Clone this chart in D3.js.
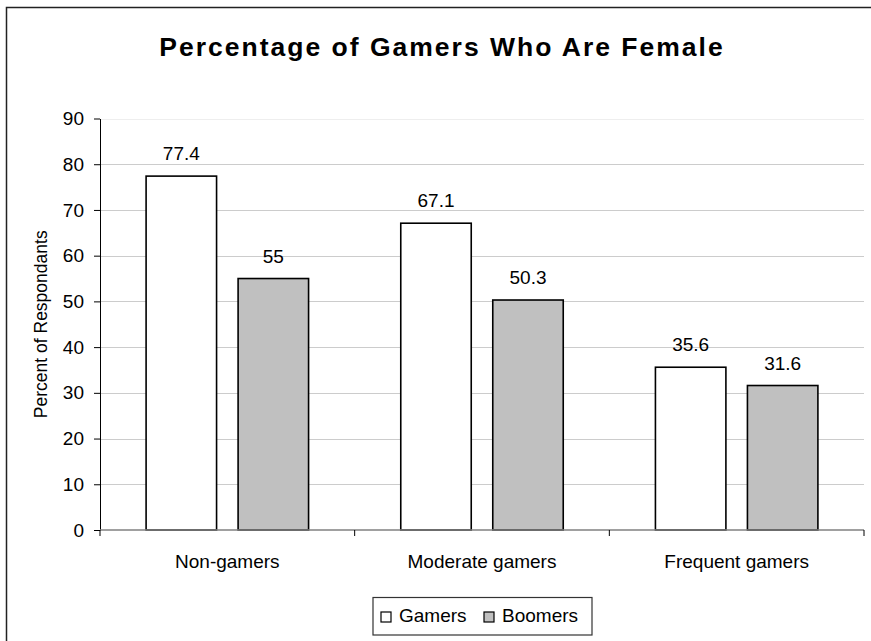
<!DOCTYPE html>
<html>
<head>
<meta charset="utf-8">
<script src="https://cdn.jsdelivr.net/npm/d3@7"></script>
<style>
  html, body { margin: 0; padding: 0; background: #fff; }
  svg { display: block; font-family: "Liberation Sans", Arial, sans-serif; }
</style>
</head>
<body>
<svg id="chart" width="871" height="641"></svg>
<script>
// Share of each group who are female
const categories = ["Non-gamers", "Moderate gamers", "Frequent gamers"];
const seriesNames = ["Gamers", "Boomers"];
const gamers = [77.4, 67.1, 35.6];
const boomers = [55, 50.3, 31.6];
const yTicks = [0, 10, 20, 30, 40, 50, 60, 70, 80, 90];
const seriesFill = { Gamers: "#ffffff", Boomers: "#c0c0c0" };

const svg = d3.select("#chart");
const plotLeft = 100, plotRight = 864, plotTop = 118.5, plotBottom = 530;

// outer frame
svg.append("rect")
  .attr("x", 6.5).attr("y", 7.5)
  .attr("width", 900).attr("height", 700)
  .attr("fill", "none").attr("stroke", "#222").attr("stroke-width", 1.5);

// title
svg.append("text")
  .attr("x", 442).attr("y", 56)
  .attr("text-anchor", "middle")
  .attr("font-size", 26.5).attr("font-weight", "bold")
  .attr("letter-spacing", 2)
  .text("Percentage of Gamers Who Are Female");

const y = d3.scaleLinear().domain([0, 90]).range([plotBottom, plotTop]);
const x0 = d3.scaleBand().domain(categories).range([plotLeft, plotRight])
  .paddingInner(0.362).paddingOuter(0.181);
const x1 = d3.scaleBand().domain(seriesNames).range([0, x0.bandwidth()])
  .paddingInner(0.234);

// gridlines
svg.append("g").selectAll("line")
  .data(yTicks.filter(d => d > 0))
  .join("line")
  .attr("x1", plotLeft).attr("x2", plotRight)
  .attr("y1", d => Math.round(y(d)) + 0.5).attr("y2", d => Math.round(y(d)) + 0.5)
  .attr("stroke", d => d === 90 ? "#eeeeee" : "#cccccc").attr("stroke-width", 1);

// y axis
const yAxis = svg.append("g")
  .attr("transform", `translate(${plotLeft},0)`)
  .call(d3.axisLeft(y).tickValues(yTicks).tickSize(6).tickPadding(10).tickSizeOuter(0));
yAxis.select(".domain").attr("stroke", "#000");
yAxis.selectAll(".tick line").attr("stroke", "#000");
yAxis.selectAll("text").attr("font-size", 19).attr("fill", "#000")
  .attr("font-family", "Liberation Sans, Arial, sans-serif");

svg.append("text")
  .attr("transform", `translate(47,${(plotTop + plotBottom) / 2}) rotate(-90)`)
  .attr("text-anchor", "middle")
  .attr("font-size", 17.5)
  .text("Percent of Respondants");

// bars
const rows = categories.map((c, i) => ({ cat: c, values: [
  { key: "Gamers", value: gamers[i] },
  { key: "Boomers", value: boomers[i] }
]}));

const groups = svg.append("g").selectAll("g")
  .data(rows).join("g")
  .attr("transform", d => `translate(${x0(d.cat)},0)`);

groups.selectAll("rect")
  .data(d => d.values).join("rect")
  .attr("x", d => x1(d.key))
  .attr("y", d => y(d.value))
  .attr("width", x1.bandwidth())
  .attr("height", d => plotBottom - y(d.value))
  .attr("fill", d => seriesFill[d.key])
  .attr("stroke", "#000").attr("stroke-width", 1.6);

groups.selectAll("text")
  .data(d => d.values).join("text")
  .attr("x", d => x1(d.key) + x1.bandwidth() / 2)
  .attr("y", d => y(d.value) - 16)
  .attr("text-anchor", "middle")
  .attr("font-size", 19)
  .text(d => d.value);

// x axis
const step = x0.step();
svg.append("line")
  .attr("x1", plotLeft).attr("x2", plotRight)
  .attr("y1", plotBottom).attr("y2", plotBottom)
  .attr("stroke", "#808080").attr("stroke-width", 1.5);
svg.append("g").selectAll("line")
  .data(d3.range(categories.length + 1))
  .join("line")
  .attr("x1", i => plotLeft + i * step).attr("x2", i => plotLeft + i * step)
  .attr("y1", plotBottom).attr("y2", plotBottom + 6)
  .attr("stroke", "#000");

svg.append("g").selectAll("text")
  .data(categories).join("text")
  .attr("x", d => x0(d) + x0.bandwidth() / 2)
  .attr("y", 567.5)
  .attr("text-anchor", "middle")
  .attr("font-size", 19)
  .text(d => d);

// legend
const legend = svg.append("g");
legend.append("rect")
  .attr("x", 373).attr("y", 597.5).attr("width", 219).attr("height", 37.5)
  .attr("fill", "#fff").attr("stroke", "#333").attr("stroke-width", 1.2);
const legendX = [381, 484];
seriesNames.forEach((s, i) => {
  legend.append("rect")
    .attr("x", legendX[i]).attr("y", 612).attr("width", 10).attr("height", 10)
    .attr("fill", seriesFill[s]).attr("stroke", "#000").attr("stroke-width", 1.2);
  legend.append("text")
    .attr("x", legendX[i] + 18).attr("y", 622)
    .attr("font-size", 19)
    .text(s);
});
</script>
</body>
</html>
